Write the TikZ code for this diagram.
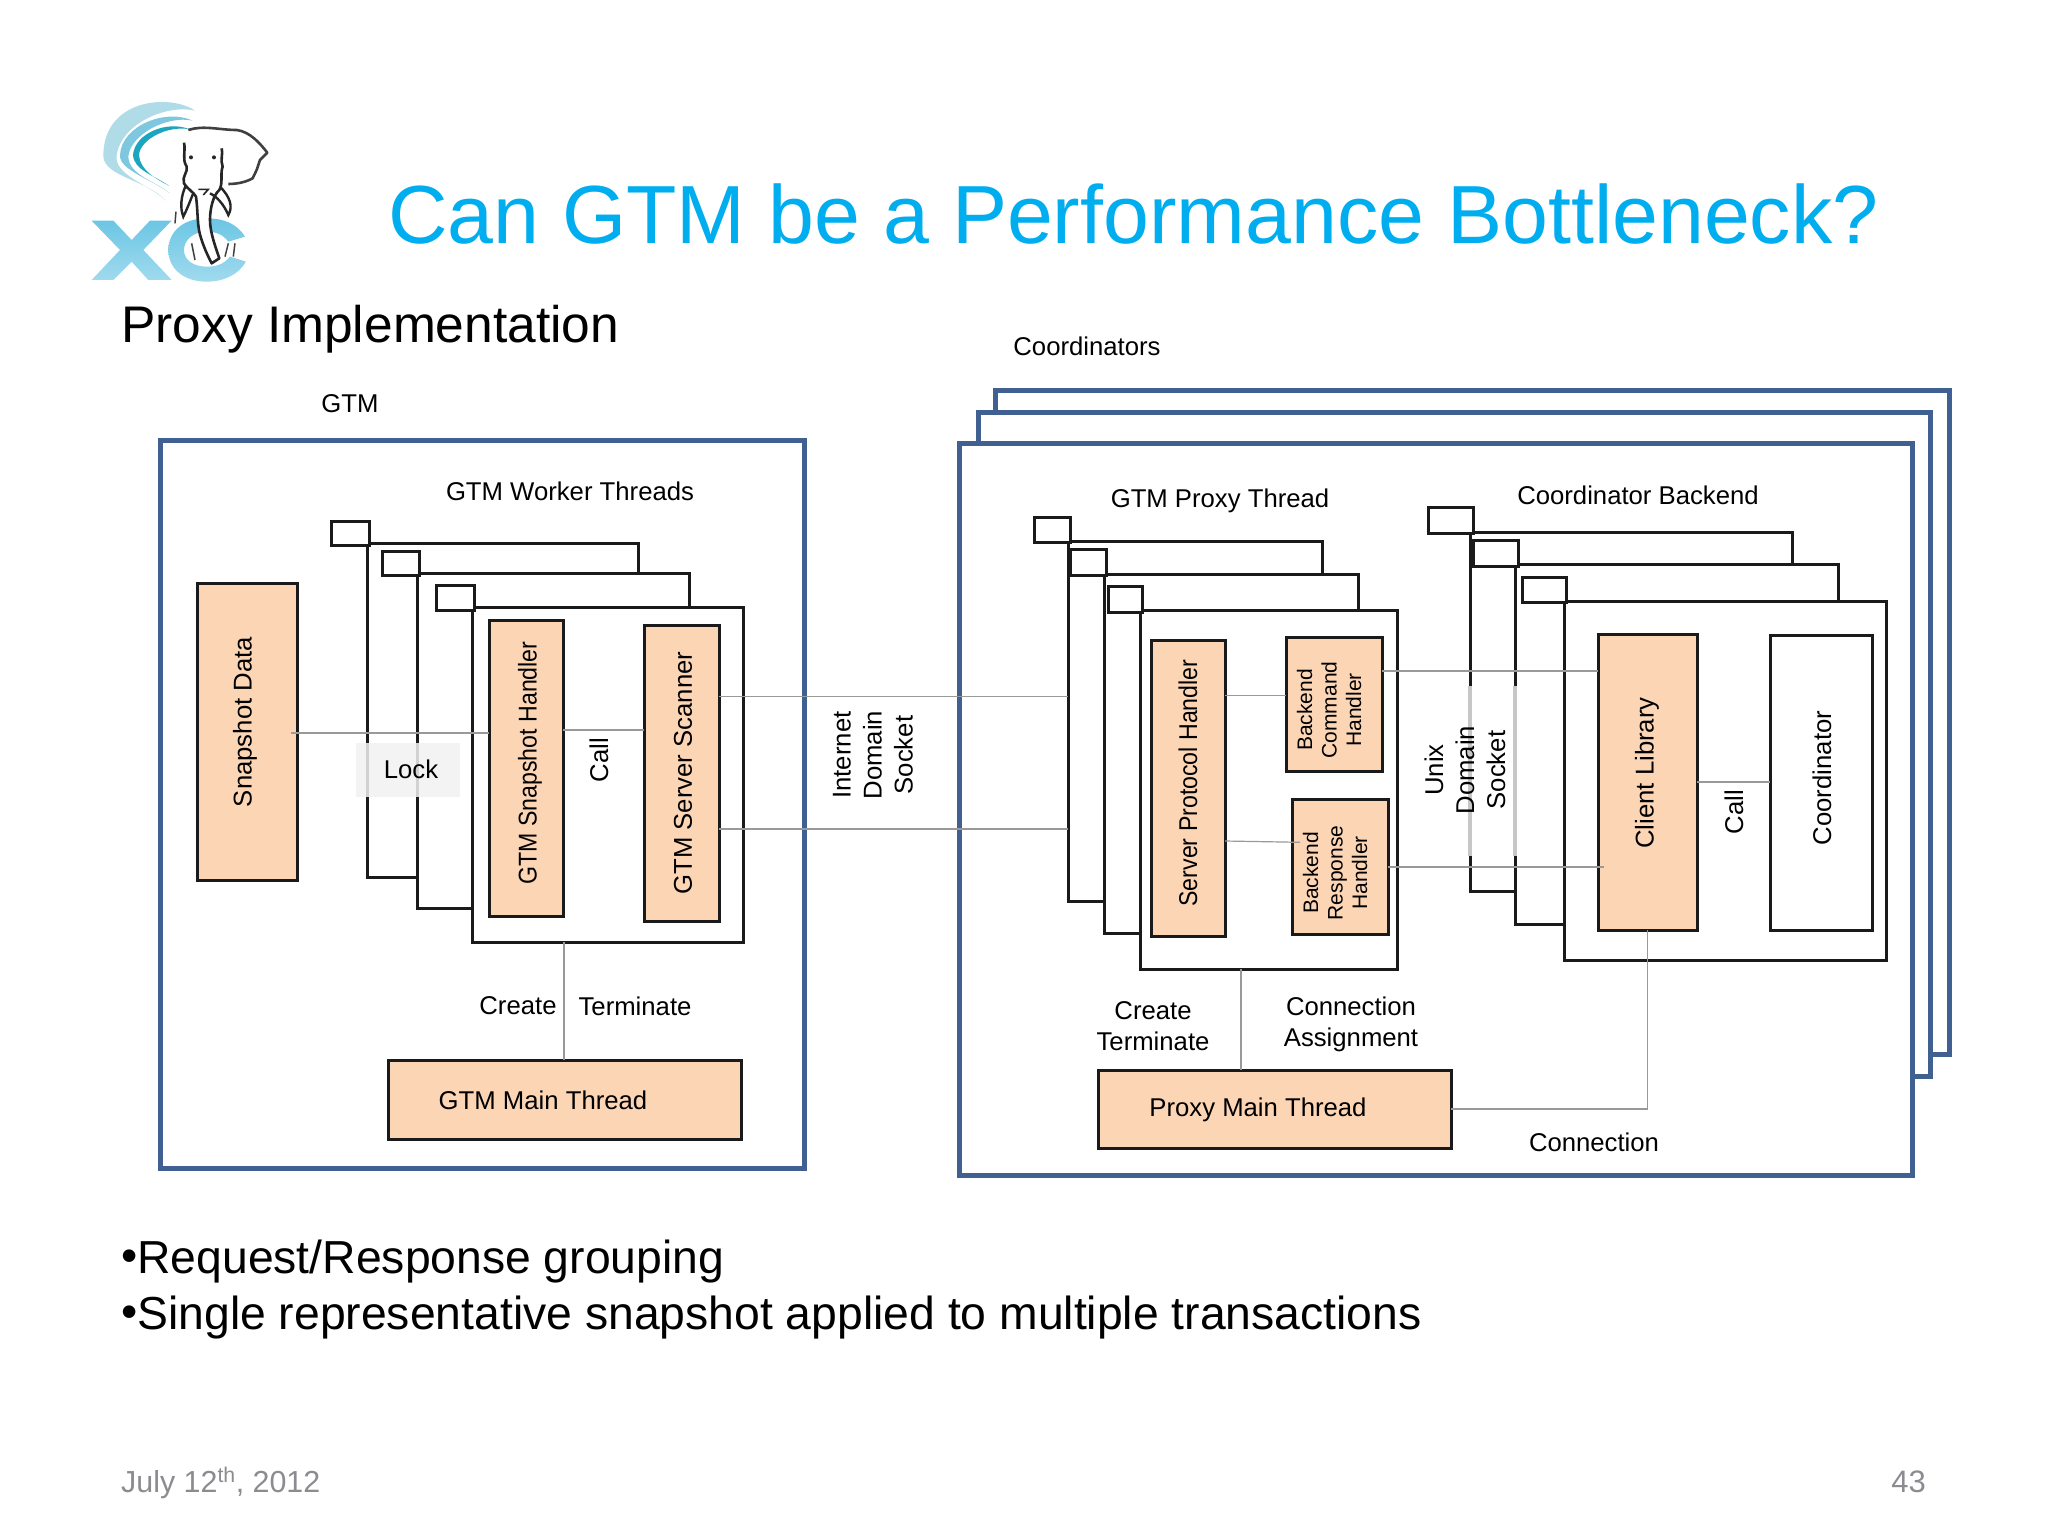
\documentclass[tikz,border=0pt]{standalone}
\usepackage{fontspec}
\setmainfont{Liberation Sans}
\usetikzlibrary{calc}
\definecolor{frameblue}{HTML}{3F6090}
\definecolor{peach}{HTML}{FCD5B5}
\definecolor{titleblue}{HTML}{00AEEF}
\definecolor{connline}{HTML}{999999}
\definecolor{inkline}{HTML}{1A1A1A}
\definecolor{footgrey}{HTML}{8C8C90}
\definecolor{logotop}{HTML}{6CC6E4}
\definecolor{logomid}{HTML}{3DB4E0}
\definecolor{logolow}{HTML}{A0DAEE}
\tikzset{
  outerframe/.style={draw=frameblue,line width=5pt,fill=white},
  thread/.style={draw=inkline,line width=3pt,fill=white},
  flagbox/.style={draw=inkline,line width=3pt,fill=white},
  peachbox/.style={draw=inkline,line width=3pt,fill=peach},
  whitebox/.style={draw=inkline,line width=3pt,fill=white},
  conn/.style={draw=connline,line width=1.2pt},
  lbl/.style={font=\fontsize{25.7}{31}\selectfont,text=black,inner sep=0pt,align=center},
  vlbl/.style={lbl,rotate=90},
  slbl/.style={font=\fontsize{21}{24.5}\selectfont,text=black,inner sep=0pt,align=center,rotate=90},
}
\newcommand{\bx}[6]{\node[#1,inner sep=0pt,outer sep=0pt,minimum width={(#5-#3)*1pt},minimum height={(#6-#4)*1pt}] (#2) at ({(#3+#5)/2},{(#4+#6)/2}) {};}
\begin{document}
\begin{tikzpicture}[x=1pt,y=-1pt]
\useasboundingbox (0,0) rectangle (2048,1535);
\fill[white] (0,0) rectangle (2048,1535);

% ---------- logo ----------
\begin{scope}[shift={(60,80)},x=0.3333pt,y=-0.3333pt]
 \fill[color={rgb,255:red,176;green,220;blue,232}] (405,92) .. controls (330,40) and (128,56) .. (130,230) .. controls (135,290) and (260,300) .. (318,362) .. controls (270,315) and (160,285) .. (170,225) .. controls (185,130) and (320,72) .. (405,92) -- cycle;
 \fill[color={rgb,255:red,125;green,200;blue,222}] (398,122) .. controls (320,85) and (185,135) .. (180,225) .. controls (177,270) and (270,295) .. (330,340) .. controls (280,300) and (208,285) .. (205,230) .. controls (210,165) and (320,105) .. (398,122) -- cycle;
 \fill[color={rgb,255:red,28;green,165;blue,190}] (390,148) .. controls (320,120) and (225,160) .. (219,225) .. controls (222,270) and (280,285) .. (328,318) .. controls (285,295) and (240,270) .. (237,225) .. controls (240,180) and (320,135) .. (390,148) -- cycle;
 \shade[top color=logotop,middle color=logomid,bottom color=logolow]
   (95,422) -- (160,422) -- (215,480) -- (270,422) -- (335,422) -- (250,510) -- (335,600) -- (265,600) -- (215,545) -- (160,600) -- (95,600) -- (180,510) -- cycle;
 \shade[top color=logotop,middle color=logomid,bottom color=logolow]
   (555,470) .. controls (530,430) and (490,415) .. (440,415) .. controls (370,415) and (325,455) .. (325,510) .. controls (325,565) and (370,605) .. (440,605) .. controls (490,605) and (535,585) .. (558,545) -- (510,530) .. controls (490,555) and (465,560) .. (440,560) .. controls (400,560) and (372,540) .. (372,510) .. controls (372,480) and (400,455) .. (440,455) .. controls (470,455) and (490,465) .. (505,485) -- cycle;
 \draw[black!75,line width=2.6pt,line join=round] (385,150) .. controls (430,135) and (480,150) .. (530,150) .. controls (570,155) and (600,190) .. (622,218) -- (600,240) -- (590,270) -- (578,295) .. controls (560,305) and (535,312) .. (505,312);
 \draw[black!85,line width=2.6pt,fill=white,line join=round] (372,188) .. controls (378,215) and (365,235) .. (380,260) .. controls (385,275) and (365,290) .. (372,310) .. controls (385,330) and (400,335) .. (408,350) .. controls (415,400) and (410,440) .. (425,480) .. controls (435,510) and (445,530) .. (455,550) -- (478,535) .. controls (470,510) and (450,460) .. (450,420) .. controls (450,385) and (460,345) .. (478,330) .. controls (490,310) and (480,280) .. (488,260) .. controls (480,240) and (490,220) .. (485,205);
 \draw[black!85,line width=2.4pt] (378,315) .. controls (362,350) and (360,385) .. (370,410) .. controls (385,380) and (395,350) .. (400,340);
 \draw[black!85,line width=2.4pt] (480,320) .. controls (510,350) and (520,380) .. (505,405) .. controls (490,370) and (470,350) .. (450,340);
 \draw[black!85,line width=1.6pt] (415,328) -- (445,328) -- (430,345);
 \fill[black!85] (393,232) circle (6);
 \fill[black!85] (462,232) circle (6);
 \draw[black!75,line width=1.5pt] (348,395) -- (345,430) (395,490) -- (405,540) (505,490) -- (495,530) (525,490) -- (520,530);
\end{scope}

% ---------- headings ----------
\node[anchor=west,inner sep=0pt,text=titleblue,font=\fontsize{82.5}{90}\selectfont] (title) at (388,214) {Can GTM be a Performance Bottleneck?};
\node[anchor=west,inner sep=0pt,text=black,font=\fontsize{51.5}{60}\selectfont] (sub) at (121,329) {Proxy Implementation};
\node (gtmlabel) [lbl] at (350,404) {GTM};
\node (coordlabel) [lbl] at (1087,346) {Coordinators};

% ---------- GTM side ----------
\bx{outerframe}{gtmouter}{160}{440}{804}{1168}
\bx{peachbox}{snap}{197}{583}{297}{880}
\bx{thread}{wf1}{367}{543}{638}{877}
\bx{flagbox}{wg1}{331}{521}{369}{545}
\bx{thread}{wf2}{417}{573}{689}{908}
\bx{flagbox}{wg2}{382}{551}{419}{575}
\bx{thread}{wf3}{472}{607}{743}{942}
\bx{flagbox}{wg3}{436}{585}{474}{610}
\bx{peachbox}{snaph}{489}{620}{563}{916}
\bx{peachbox}{scan}{644}{625}{719}{921}
\bx{peachbox}{gtmmain}{388}{1060}{741}{1139}

% ---------- proxy side ----------
\bx{outerframe}{cback}{995}{390}{1949}{1054}
\bx{outerframe}{cmid}{978}{412}{1930}{1076}
\bx{outerframe}{cfront}{959}{443}{1912}{1175}
\bx{thread}{pf1}{1068}{541}{1322}{901}
\bx{flagbox}{pg1}{1034}{517}{1070}{542}
\bx{thread}{pf2}{1104}{574}{1358}{933}
\bx{flagbox}{pg2}{1070}{549}{1106}{575}
\bx{thread}{pf3}{1140}{610}{1397}{969}
\bx{flagbox}{pg3}{1108}{586}{1142}{612}
\bx{peachbox}{sph}{1151}{640}{1225}{936}
\bx{peachbox}{bch}{1286}{637}{1382}{771}
\bx{peachbox}{brh}{1292}{799}{1388}{934}
\bx{thread}{bf1}{1470}{532}{1792}{891}
\bx{flagbox}{bg1}{1428}{507}{1473}{533}
\bx{thread}{bf2}{1515}{564}{1838}{924}
\bx{flagbox}{bg2}{1473}{540}{1518}{566}
\bx{thread}{bf3}{1564}{601}{1886}{960}
\bx{flagbox}{bg3}{1522}{577}{1566}{602}
\bx{peachbox}{client}{1598}{634}{1697}{930}
\bx{whitebox}{coord}{1770}{635}{1872}{930}
\bx{peachbox}{pmain}{1098}{1070}{1451}{1148}

% faded stretch of the backend frames
\draw[color=black!22,line width=3.2pt] (bf1.west |- 0,686) -- (bf1.west |- 0,856);
\draw[color=black!22,line width=3.2pt] (bf2.west |- 0,686) -- (bf2.west |- 0,856);

% ---------- connectors ----------
\draw[conn] ([xshift=-6pt]snap.east |- 0,733) -- (snaph.west |- 0,733);
\draw[conn] (snaph.east |- 0,730) -- (scan.west |- 0,730);
\draw[conn] (scan.east |- 0,696.5) -- (pf1.west |- 0,696.5);
\draw[conn] (scan.east |- 0,829) -- (pf1.west |- 0,829);
\draw[conn] (wf3.south -| 564,0) -- (gtmmain.north -| 564,0);
\draw[conn] (sph.east |- 0,695.5) -- (bch.west |- 0,695.5);
\draw[conn] (sph.east |- 0,841) -- (1300,842.3);
\draw[conn] (bch.east |- 0,671) -- (client.west |- 0,671);
\draw[conn] (brh.east |- 0,867) -- (1604,867);
\draw[conn] (client.east |- 0,782) -- (coord.west |- 0,782);
\draw[conn] (client.south) -- (client.south |- pmain.east) -- (pmain.east);
\draw[conn] (pf3.south -| 1241,0) -- (pmain.north -| 1241,0);

% ---------- lock patch ----------
\fill[color=black!5,opacity=.85] (356,743) rectangle (460,797);

% ---------- labels, GTM ----------
\node (lwork) [lbl] at (570,491) {GTM Worker Threads};
\node (lsnap) [vlbl] at (245,722) {Snapshot Data};
\node (llock) [lbl] at (411,769) {Lock};
\node (lsnaph) [vlbl] at (530,763) {\scalebox{.9}[1]{GTM Snapshot Handler}};
\node (lcall) [vlbl] at (599,760) {Call};
\node (lscan) [vlbl] at (683,773) {GTM Server Scanner};
\node (lcreate) [lbl] at (518,1006) {Create};
\node (lterm) [lbl] at (635,1006) {Terminate};
\node (lgmain) [lbl] at (543,1100) {GTM Main Thread};
\node (linet) [vlbl] at (873,755) {Internet\\Domain\\Socket};

% ---------- labels, proxy ----------
\node (lpthr) [lbl] at (1220,501) {GTM Proxy Thread};
\node (lback) [lbl] at (1638,495) {Coordinator Backend};
\node (lsph) [vlbl] at (1188,783) {\scalebox{.9}[1]{Server Protocol Handler}};
\node (lbch) [slbl] at (1329,710) {Backend\\Command\\Handler};
\node (lbrh) [slbl] at (1335,873) {Backend\\Response\\Handler};
\node (lunix) [vlbl] at (1465,770) {Unix\\Domain\\Socket};
\node (lclient) [vlbl] at (1647,773) {Client Library};
\node (lcall2) [vlbl] at (1734,812) {Call};
\node (lcoord) [vlbl] at (1822,778) {Coordinator};
\node (lct) [lbl] at (1153,1026) {Create\\Terminate};
\node (lca) [lbl] at (1351,1024) {Connection\\Assignment};
\node (lconn) [lbl] at (1594,1142) {Connection};
\node (lpmain) [lbl] at (1258,1110) {Proxy Main Thread};

% ---------- bullets and footer ----------
\node[anchor=base west,inner sep=0pt,text=black,font=\fontsize{46.3}{54}\selectfont] (b1) at (121,1273) {\raisebox{2pt}{•}Request/Response grouping};
\node[anchor=base west,inner sep=0pt,text=black,font=\fontsize{46.3}{54}\selectfont] (b2) at (121,1329) {\raisebox{2pt}{•}Single representative snapshot applied to multiple transactions};
\node[anchor=base west,inner sep=0pt,text=footgrey,font=\fontsize{30.4}{36}\selectfont] (date) at (121,1492) {July 12\textsuperscript{th}, 2012};
\node[anchor=base east,inner sep=0pt,text=footgrey,font=\fontsize{31}{36}\selectfont] (page) at (1926,1492) {43};
\end{tikzpicture}
\end{document}
